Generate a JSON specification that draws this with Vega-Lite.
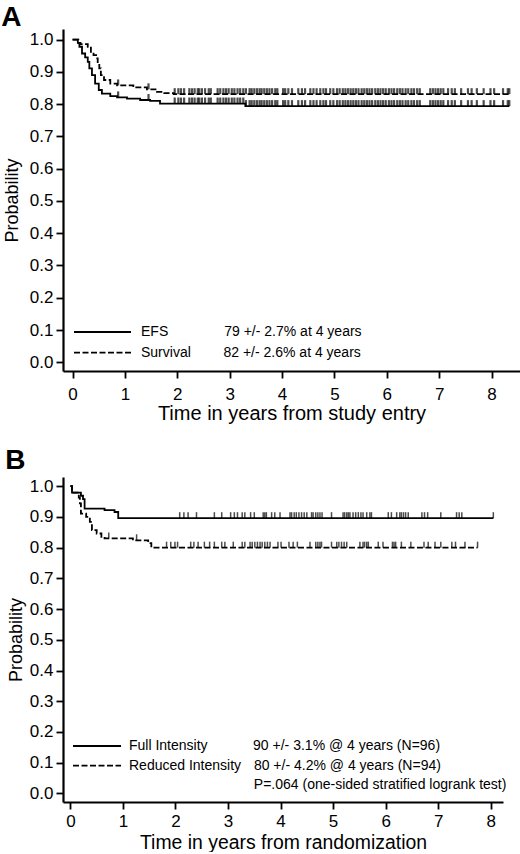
{
  "$schema": "https://vega.github.io/schema/vega-lite/v6.json",
  "padding": {"left": 1, "top": 3, "right": 0, "bottom": 0},
  "background": "white",
  "columns": 1,
  "align": "none",
  "spacing": 23,
  "resolve": {
    "scale": {"x": "independent", "y": "independent", "strokeDash": "independent"},
    "axis": {"x": "independent", "y": "independent"},
    "legend": {"strokeDash": "independent"}
  },
  "config": {
    "view": {"stroke": null},
    "font": "Liberation Sans",
    "axis": {
      "domainColor": "black", "domainWidth": 2.2,
      "tickColor": "black", "tickWidth": 1.8, "tickSize": 7,
      "labelColor": "black", "labelFont": "Liberation Sans", "labelFontSize": 17, "labelPadding": 3, "labelOverlap": false,
      "titleColor": "black", "titleFont": "Liberation Sans", "titleFontSize": 20, "titleFontWeight": "normal",
      "grid": false
    }
  },
  "datasets": {
    "a_curves": [
      {"curve": "EFS", "t": 0, "p": 1.0},
      {"curve": "EFS", "t": 0.10, "p": 0.99},
      {"curve": "EFS", "t": 0.13, "p": 0.978},
      {"curve": "EFS", "t": 0.18, "p": 0.957},
      {"curve": "EFS", "t": 0.24, "p": 0.945},
      {"curve": "EFS", "t": 0.29, "p": 0.931},
      {"curve": "EFS", "t": 0.32, "p": 0.911},
      {"curve": "EFS", "t": 0.37, "p": 0.89},
      {"curve": "EFS", "t": 0.43, "p": 0.864},
      {"curve": "EFS", "t": 0.50, "p": 0.844},
      {"curve": "EFS", "t": 0.56, "p": 0.833},
      {"curve": "EFS", "t": 0.72, "p": 0.825},
      {"curve": "EFS", "t": 0.85, "p": 0.821},
      {"curve": "EFS", "t": 1.04, "p": 0.817},
      {"curve": "EFS", "t": 1.29, "p": 0.813},
      {"curve": "EFS", "t": 1.48, "p": 0.81},
      {"curve": "EFS", "t": 1.67, "p": 0.802},
      {"curve": "EFS", "t": 3.30, "p": 0.794},
      {"curve": "EFS", "t": 8.34, "p": 0.794},
      {"curve": "Survival", "t": 0, "p": 1.0},
      {"curve": "Survival", "t": 0.11, "p": 0.99},
      {"curve": "Survival", "t": 0.15, "p": 0.986},
      {"curve": "Survival", "t": 0.29, "p": 0.978},
      {"curve": "Survival", "t": 0.35, "p": 0.962},
      {"curve": "Survival", "t": 0.40, "p": 0.952},
      {"curve": "Survival", "t": 0.45, "p": 0.942},
      {"curve": "Survival", "t": 0.48, "p": 0.926},
      {"curve": "Survival", "t": 0.51, "p": 0.911},
      {"curve": "Survival", "t": 0.54, "p": 0.89},
      {"curve": "Survival", "t": 0.60, "p": 0.875},
      {"curve": "Survival", "t": 0.72, "p": 0.864},
      {"curve": "Survival", "t": 0.85, "p": 0.858},
      {"curve": "Survival", "t": 1.16, "p": 0.852},
      {"curve": "Survival", "t": 1.42, "p": 0.846},
      {"curve": "Survival", "t": 1.61, "p": 0.838},
      {"curve": "Survival", "t": 1.75, "p": 0.834},
      {"curve": "Survival", "t": 1.93, "p": 0.831},
      {"curve": "Survival", "t": 8.34, "p": 0.831}
    ],
    "a_cens": [
      {"t": 0.87, "s": 0.858, "e": 0.821},
      {"t": 1.45, "s": 0.846, "e": 0.813},
      {"t": 1.95, "s": 0.831, "e": 0.802},
      {"t": 2.02, "s": 0.831, "e": 0.802},
      {"t": 2.07, "s": 0.831, "e": 0.802},
      {"t": 2.13, "s": 0.831, "e": 0.802},
      {"t": 2.23, "s": 0.831, "e": 0.802},
      {"t": 2.28, "s": 0.831, "e": 0.802},
      {"t": 2.33, "s": 0.831, "e": 0.802},
      {"t": 2.39, "s": 0.831, "e": 0.802},
      {"t": 2.42, "s": 0.831, "e": 0.802},
      {"t": 2.47, "s": 0.831, "e": 0.802},
      {"t": 2.53, "s": 0.831, "e": 0.802},
      {"t": 2.60, "s": 0.831, "e": 0.802},
      {"t": 2.64, "s": 0.831, "e": 0.802},
      {"t": 2.77, "s": 0.831, "e": 0.802},
      {"t": 2.82, "s": 0.831, "e": 0.802},
      {"t": 2.88, "s": 0.831, "e": 0.802},
      {"t": 2.93, "s": 0.831, "e": 0.802},
      {"t": 2.98, "s": 0.831, "e": 0.802},
      {"t": 3.04, "s": 0.831, "e": 0.802},
      {"t": 3.09, "s": 0.831, "e": 0.802},
      {"t": 3.15, "s": 0.831, "e": 0.802},
      {"t": 3.20, "s": 0.831, "e": 0.802},
      {"t": 3.26, "s": 0.831, "e": 0.802},
      {"t": 3.31, "s": 0.831, "e": 0.794},
      {"t": 3.38, "s": 0.831, "e": 0.794},
      {"t": 3.42, "s": 0.831, "e": 0.794},
      {"t": 3.47, "s": 0.831, "e": 0.794},
      {"t": 3.52, "s": 0.831, "e": 0.794},
      {"t": 3.57, "s": 0.831, "e": 0.794},
      {"t": 3.61, "s": 0.831, "e": 0.794},
      {"t": 3.66, "s": 0.831, "e": 0.794},
      {"t": 3.71, "s": 0.831, "e": 0.794},
      {"t": 3.76, "s": 0.831, "e": 0.794},
      {"t": 3.81, "s": 0.831, "e": 0.794},
      {"t": 3.87, "s": 0.831, "e": 0.794},
      {"t": 3.91, "s": 0.831, "e": 0.794},
      {"t": 4.02, "s": 0.831, "e": 0.794},
      {"t": 4.06, "s": 0.831, "e": 0.794},
      {"t": 4.12, "s": 0.831, "e": 0.794},
      {"t": 4.19, "s": 0.831, "e": 0.794},
      {"t": 4.31, "s": 0.831, "e": 0.794},
      {"t": 4.38, "s": 0.831, "e": 0.794},
      {"t": 4.44, "s": 0.831, "e": 0.794},
      {"t": 4.54, "s": 0.831, "e": 0.794},
      {"t": 4.60, "s": 0.831, "e": 0.794},
      {"t": 4.66, "s": 0.831, "e": 0.794},
      {"t": 4.73, "s": 0.831, "e": 0.794},
      {"t": 4.79, "s": 0.831, "e": 0.794},
      {"t": 4.84, "s": 0.831, "e": 0.794},
      {"t": 4.92, "s": 0.831, "e": 0.794},
      {"t": 4.98, "s": 0.831, "e": 0.794},
      {"t": 5.05, "s": 0.831, "e": 0.794},
      {"t": 5.10, "s": 0.831, "e": 0.794},
      {"t": 5.16, "s": 0.831, "e": 0.794},
      {"t": 5.21, "s": 0.831, "e": 0.794},
      {"t": 5.26, "s": 0.831, "e": 0.794},
      {"t": 5.31, "s": 0.831, "e": 0.794},
      {"t": 5.36, "s": 0.831, "e": 0.794},
      {"t": 5.41, "s": 0.831, "e": 0.794},
      {"t": 5.46, "s": 0.831, "e": 0.794},
      {"t": 5.52, "s": 0.831, "e": 0.794},
      {"t": 5.57, "s": 0.831, "e": 0.794},
      {"t": 5.62, "s": 0.831, "e": 0.794},
      {"t": 5.67, "s": 0.831, "e": 0.794},
      {"t": 5.72, "s": 0.831, "e": 0.794},
      {"t": 5.78, "s": 0.831, "e": 0.794},
      {"t": 5.83, "s": 0.831, "e": 0.794},
      {"t": 5.88, "s": 0.831, "e": 0.794},
      {"t": 5.93, "s": 0.831, "e": 0.794},
      {"t": 5.98, "s": 0.831, "e": 0.794},
      {"t": 6.04, "s": 0.831, "e": 0.794},
      {"t": 6.09, "s": 0.831, "e": 0.794},
      {"t": 6.14, "s": 0.831, "e": 0.794},
      {"t": 6.20, "s": 0.831, "e": 0.794},
      {"t": 6.25, "s": 0.831, "e": 0.794},
      {"t": 6.30, "s": 0.831, "e": 0.794},
      {"t": 6.36, "s": 0.831, "e": 0.794},
      {"t": 6.41, "s": 0.831, "e": 0.794},
      {"t": 6.47, "s": 0.831, "e": 0.794},
      {"t": 6.52, "s": 0.831, "e": 0.794},
      {"t": 6.58, "s": 0.831, "e": 0.794},
      {"t": 6.63, "s": 0.831, "e": 0.794},
      {"t": 6.83, "s": 0.831, "e": 0.794},
      {"t": 6.88, "s": 0.831, "e": 0.794},
      {"t": 6.93, "s": 0.831, "e": 0.794},
      {"t": 6.98, "s": 0.831, "e": 0.794},
      {"t": 7.03, "s": 0.831, "e": 0.794},
      {"t": 7.08, "s": 0.831, "e": 0.794},
      {"t": 7.17, "s": 0.831, "e": 0.794},
      {"t": 7.24, "s": 0.831, "e": 0.794},
      {"t": 7.30, "s": 0.831, "e": 0.794},
      {"t": 7.42, "s": 0.831, "e": 0.794},
      {"t": 7.55, "s": 0.831, "e": 0.794},
      {"t": 7.62, "s": 0.831, "e": 0.794},
      {"t": 7.72, "s": 0.831, "e": 0.794},
      {"t": 7.85, "s": 0.831, "e": 0.794},
      {"t": 7.98, "s": 0.831, "e": 0.794},
      {"t": 8.05, "s": 0.831, "e": 0.794},
      {"t": 8.22, "s": 0.831, "e": 0.794},
      {"t": 8.31, "s": 0.831, "e": 0.794},
      {"t": 8.34, "s": 0.831, "e": 0.794}
    ],
    "b_curves": [
      {"curve": "Full Intensity", "t": 0, "p": 1.0},
      {"curve": "Full Intensity", "t": 0.03, "p": 0.979},
      {"curve": "Full Intensity", "t": 0.20, "p": 0.969},
      {"curve": "Full Intensity", "t": 0.24, "p": 0.958},
      {"curve": "Full Intensity", "t": 0.27, "p": 0.927},
      {"curve": "Full Intensity", "t": 0.65, "p": 0.922},
      {"curve": "Full Intensity", "t": 0.84, "p": 0.916},
      {"curve": "Full Intensity", "t": 0.91, "p": 0.896},
      {"curve": "Full Intensity", "t": 8.05, "p": 0.896},
      {"curve": "Reduced Intensity", "t": 0, "p": 1.0},
      {"curve": "Reduced Intensity", "t": 0.03, "p": 0.979},
      {"curve": "Reduced Intensity", "t": 0.16, "p": 0.963},
      {"curve": "Reduced Intensity", "t": 0.18, "p": 0.944},
      {"curve": "Reduced Intensity", "t": 0.20, "p": 0.911},
      {"curve": "Reduced Intensity", "t": 0.30, "p": 0.90},
      {"curve": "Reduced Intensity", "t": 0.37, "p": 0.884},
      {"curve": "Reduced Intensity", "t": 0.41, "p": 0.857},
      {"curve": "Reduced Intensity", "t": 0.50, "p": 0.846},
      {"curve": "Reduced Intensity", "t": 0.59, "p": 0.835},
      {"curve": "Reduced Intensity", "t": 0.65, "p": 0.83},
      {"curve": "Reduced Intensity", "t": 1.19, "p": 0.824},
      {"curve": "Reduced Intensity", "t": 1.48, "p": 0.815},
      {"curve": "Reduced Intensity", "t": 1.54, "p": 0.80},
      {"curve": "Reduced Intensity", "t": 7.75, "p": 0.80}
    ],
    "b_cens": [
      {"curve": "Full Intensity", "t": 2.08, "p": 0.896},
      {"curve": "Full Intensity", "t": 2.16, "p": 0.896},
      {"curve": "Full Intensity", "t": 2.24, "p": 0.896},
      {"curve": "Full Intensity", "t": 2.40, "p": 0.896},
      {"curve": "Full Intensity", "t": 2.74, "p": 0.896},
      {"curve": "Full Intensity", "t": 2.88, "p": 0.896},
      {"curve": "Full Intensity", "t": 3.05, "p": 0.896},
      {"curve": "Full Intensity", "t": 3.12, "p": 0.896},
      {"curve": "Full Intensity", "t": 3.18, "p": 0.896},
      {"curve": "Full Intensity", "t": 3.27, "p": 0.896},
      {"curve": "Full Intensity", "t": 3.32, "p": 0.896},
      {"curve": "Full Intensity", "t": 3.43, "p": 0.896},
      {"curve": "Full Intensity", "t": 3.50, "p": 0.896},
      {"curve": "Full Intensity", "t": 3.67, "p": 0.896},
      {"curve": "Full Intensity", "t": 3.70, "p": 0.896},
      {"curve": "Full Intensity", "t": 3.73, "p": 0.896},
      {"curve": "Full Intensity", "t": 3.83, "p": 0.896},
      {"curve": "Full Intensity", "t": 3.89, "p": 0.896},
      {"curve": "Full Intensity", "t": 3.99, "p": 0.896},
      {"curve": "Full Intensity", "t": 4.18, "p": 0.896},
      {"curve": "Full Intensity", "t": 4.21, "p": 0.896},
      {"curve": "Full Intensity", "t": 4.26, "p": 0.896},
      {"curve": "Full Intensity", "t": 4.30, "p": 0.896},
      {"curve": "Full Intensity", "t": 4.35, "p": 0.896},
      {"curve": "Full Intensity", "t": 4.40, "p": 0.896},
      {"curve": "Full Intensity", "t": 4.45, "p": 0.896},
      {"curve": "Full Intensity", "t": 4.50, "p": 0.896},
      {"curve": "Full Intensity", "t": 4.59, "p": 0.896},
      {"curve": "Full Intensity", "t": 4.62, "p": 0.896},
      {"curve": "Full Intensity", "t": 4.67, "p": 0.896},
      {"curve": "Full Intensity", "t": 4.71, "p": 0.896},
      {"curve": "Full Intensity", "t": 4.75, "p": 0.896},
      {"curve": "Full Intensity", "t": 4.79, "p": 0.896},
      {"curve": "Full Intensity", "t": 4.97, "p": 0.896},
      {"curve": "Full Intensity", "t": 5.19, "p": 0.896},
      {"curve": "Full Intensity", "t": 5.22, "p": 0.896},
      {"curve": "Full Intensity", "t": 5.26, "p": 0.896},
      {"curve": "Full Intensity", "t": 5.29, "p": 0.896},
      {"curve": "Full Intensity", "t": 5.32, "p": 0.896},
      {"curve": "Full Intensity", "t": 5.38, "p": 0.896},
      {"curve": "Full Intensity", "t": 5.43, "p": 0.896},
      {"curve": "Full Intensity", "t": 5.48, "p": 0.896},
      {"curve": "Full Intensity", "t": 5.53, "p": 0.896},
      {"curve": "Full Intensity", "t": 5.57, "p": 0.896},
      {"curve": "Full Intensity", "t": 5.64, "p": 0.896},
      {"curve": "Full Intensity", "t": 5.70, "p": 0.896},
      {"curve": "Full Intensity", "t": 5.73, "p": 0.896},
      {"curve": "Full Intensity", "t": 6.05, "p": 0.896},
      {"curve": "Full Intensity", "t": 6.11, "p": 0.896},
      {"curve": "Full Intensity", "t": 6.21, "p": 0.896},
      {"curve": "Full Intensity", "t": 6.27, "p": 0.896},
      {"curve": "Full Intensity", "t": 6.30, "p": 0.896},
      {"curve": "Full Intensity", "t": 6.34, "p": 0.896},
      {"curve": "Full Intensity", "t": 6.38, "p": 0.896},
      {"curve": "Full Intensity", "t": 6.43, "p": 0.896},
      {"curve": "Full Intensity", "t": 6.69, "p": 0.896},
      {"curve": "Full Intensity", "t": 6.74, "p": 0.896},
      {"curve": "Full Intensity", "t": 6.80, "p": 0.896},
      {"curve": "Full Intensity", "t": 7.05, "p": 0.896},
      {"curve": "Full Intensity", "t": 7.35, "p": 0.896},
      {"curve": "Full Intensity", "t": 7.40, "p": 0.896},
      {"curve": "Full Intensity", "t": 7.45, "p": 0.896},
      {"curve": "Full Intensity", "t": 8.05, "p": 0.896},
      {"curve": "Reduced Intensity", "t": 0.73, "p": 0.83},
      {"curve": "Reduced Intensity", "t": 1.26, "p": 0.824},
      {"curve": "Reduced Intensity", "t": 1.83, "p": 0.80},
      {"curve": "Reduced Intensity", "t": 1.91, "p": 0.80},
      {"curve": "Reduced Intensity", "t": 1.99, "p": 0.80},
      {"curve": "Reduced Intensity", "t": 2.04, "p": 0.80},
      {"curve": "Reduced Intensity", "t": 2.29, "p": 0.80},
      {"curve": "Reduced Intensity", "t": 2.35, "p": 0.80},
      {"curve": "Reduced Intensity", "t": 2.43, "p": 0.80},
      {"curve": "Reduced Intensity", "t": 2.55, "p": 0.80},
      {"curve": "Reduced Intensity", "t": 2.65, "p": 0.80},
      {"curve": "Reduced Intensity", "t": 2.74, "p": 0.80},
      {"curve": "Reduced Intensity", "t": 2.88, "p": 0.80},
      {"curve": "Reduced Intensity", "t": 2.94, "p": 0.80},
      {"curve": "Reduced Intensity", "t": 3.10, "p": 0.80},
      {"curve": "Reduced Intensity", "t": 3.27, "p": 0.80},
      {"curve": "Reduced Intensity", "t": 3.32, "p": 0.80},
      {"curve": "Reduced Intensity", "t": 3.42, "p": 0.80},
      {"curve": "Reduced Intensity", "t": 3.46, "p": 0.80},
      {"curve": "Reduced Intensity", "t": 3.51, "p": 0.80},
      {"curve": "Reduced Intensity", "t": 3.56, "p": 0.80},
      {"curve": "Reduced Intensity", "t": 3.61, "p": 0.80},
      {"curve": "Reduced Intensity", "t": 3.65, "p": 0.80},
      {"curve": "Reduced Intensity", "t": 3.70, "p": 0.80},
      {"curve": "Reduced Intensity", "t": 3.75, "p": 0.80},
      {"curve": "Reduced Intensity", "t": 3.80, "p": 0.80},
      {"curve": "Reduced Intensity", "t": 3.95, "p": 0.80},
      {"curve": "Reduced Intensity", "t": 4.01, "p": 0.80},
      {"curve": "Reduced Intensity", "t": 4.16, "p": 0.80},
      {"curve": "Reduced Intensity", "t": 4.24, "p": 0.80},
      {"curve": "Reduced Intensity", "t": 4.32, "p": 0.80},
      {"curve": "Reduced Intensity", "t": 4.56, "p": 0.80},
      {"curve": "Reduced Intensity", "t": 4.67, "p": 0.80},
      {"curve": "Reduced Intensity", "t": 4.71, "p": 0.80},
      {"curve": "Reduced Intensity", "t": 4.75, "p": 0.80},
      {"curve": "Reduced Intensity", "t": 4.78, "p": 0.80},
      {"curve": "Reduced Intensity", "t": 4.97, "p": 0.80},
      {"curve": "Reduced Intensity", "t": 5.07, "p": 0.80},
      {"curve": "Reduced Intensity", "t": 5.11, "p": 0.80},
      {"curve": "Reduced Intensity", "t": 5.16, "p": 0.80},
      {"curve": "Reduced Intensity", "t": 5.21, "p": 0.80},
      {"curve": "Reduced Intensity", "t": 5.26, "p": 0.80},
      {"curve": "Reduced Intensity", "t": 5.51, "p": 0.80},
      {"curve": "Reduced Intensity", "t": 5.57, "p": 0.80},
      {"curve": "Reduced Intensity", "t": 5.60, "p": 0.80},
      {"curve": "Reduced Intensity", "t": 5.64, "p": 0.80},
      {"curve": "Reduced Intensity", "t": 5.67, "p": 0.80},
      {"curve": "Reduced Intensity", "t": 5.86, "p": 0.80},
      {"curve": "Reduced Intensity", "t": 5.95, "p": 0.80},
      {"curve": "Reduced Intensity", "t": 6.13, "p": 0.80},
      {"curve": "Reduced Intensity", "t": 6.16, "p": 0.80},
      {"curve": "Reduced Intensity", "t": 6.19, "p": 0.80},
      {"curve": "Reduced Intensity", "t": 6.30, "p": 0.80},
      {"curve": "Reduced Intensity", "t": 6.48, "p": 0.80},
      {"curve": "Reduced Intensity", "t": 6.73, "p": 0.80},
      {"curve": "Reduced Intensity", "t": 6.81, "p": 0.80},
      {"curve": "Reduced Intensity", "t": 6.94, "p": 0.80},
      {"curve": "Reduced Intensity", "t": 7.05, "p": 0.80},
      {"curve": "Reduced Intensity", "t": 7.26, "p": 0.80},
      {"curve": "Reduced Intensity", "t": 7.33, "p": 0.80},
      {"curve": "Reduced Intensity", "t": 7.51, "p": 0.80},
      {"curve": "Reduced Intensity", "t": 7.75, "p": 0.80}
    ]
  },
  "concat": [
    {
      "width": 457,
      "height": 342,
      "title": {"text": "A", "anchor": "start", "frame": "bounds", "fontSize": 28, "fontWeight": "bold", "font": "Liberation Sans", "color": "black", "offset": -24.5, "baseline": "alphabetic", "dx": -2},
      "layer": [
        {
          "data": {"name": "a_curves"},
          "mark": {"type": "line", "interpolate": "step-after", "color": "black", "strokeWidth": 1.8},
          "encoding": {
            "x": {"field": "t", "type": "quantitative", "scale": {"domain": [-0.183, 8.544], "nice": false, "zero": false},
                  "axis": {"values": [0, 1, 2, 3, 4, 5, 6, 7, 8], "format": "d", "title": "Time in years from study entry", "labelPadding": 8, "titlePadding": 1, "labelOverlap": false}},
            "y": {"field": "p", "type": "quantitative", "scale": {"domain": [-0.027, 1.033], "nice": false, "zero": false},
                  "axis": {"values": [0, 0.1, 0.2, 0.3, 0.4, 0.5, 0.6, 0.7, 0.8, 0.9, 1.0], "tickCount": 11, "format": ".1f", "labelOverlap": false, "title": "Probability", "titleFontSize": 18, "titlePadding": 8}},
            "strokeDash": {"field": "curve", "type": "nominal",
              "scale": {"domain": ["EFS", "Survival"], "range": [[1, 0], [6, 2.5]]},
              "legend": {"orient": "bottom-left", "offset": 10, "title": null, "padding": 0,
                "symbolType": "stroke", "symbolSize": 3249, "symbolStrokeWidth": 1.8, "symbolStrokeColor": "black",
                "clipHeight": 16, "rowPadding": 4.7, "labelOffset": 9, "labelLimit": 600,
                "labelFont": "Liberation Sans", "labelFontSize": 14, "labelColor": "black",
                "labelExpr": "datum.value == 'EFS' ? 'EFS\u2002\u2002\u2002\u2002\u2002\u2002\u2002\u200279 +/- 2.7% at 4 years' : 'Survival\u2002\u2002\u2002\u2002\u200482 +/- 2.6% at 4 years'"}}
          }
        },
        {
          "data": {"name": "a_cens"},
          "mark": {"type": "tick", "orient": "vertical", "color": "black", "size": 6, "thickness": 2.2, "yOffset": -3},
          "encoding": {
            "x": {"field": "t", "type": "quantitative"},
            "y": {"field": "s", "type": "quantitative"}
          }
        },
        {
          "data": {"name": "a_cens"},
          "mark": {"type": "tick", "orient": "vertical", "color": "black", "size": 6, "thickness": 2.2, "yOffset": -3},
          "encoding": {
            "x": {"field": "t", "type": "quantitative"},
            "y": {"field": "e", "type": "quantitative"}
          }
        }
      ]
    },
    {
      "width": 440,
      "height": 325,
      "title": {"text": "B", "anchor": "start", "frame": "bounds", "fontSize": 28, "fontWeight": "bold", "font": "Liberation Sans", "color": "black", "offset": -19.8, "baseline": "alphabetic", "dx": -2},
      "layer": [
        {
          "data": {"name": "b_curves"},
          "mark": {"type": "line", "interpolate": "step-after", "color": "black", "strokeWidth": 1.8},
          "encoding": {
            "x": {"field": "t", "type": "quantitative", "scale": {"domain": [-0.141, 8.234], "nice": false, "zero": false},
                  "axis": {"values": [0, 1, 2, 3, 4, 5, 6, 7, 8], "format": "d", "title": "Time in years from randomization", "titleFontSize": 19.4, "labelPadding": 4, "titlePadding": 4, "labelOverlap": false}},
            "y": {"field": "p", "type": "quantitative", "scale": {"domain": [-0.028, 1.03], "nice": false, "zero": false},
                  "axis": {"values": [0, 0.1, 0.2, 0.3, 0.4, 0.5, 0.6, 0.7, 0.8, 0.9, 1.0], "tickCount": 11, "format": ".1f", "labelOverlap": false, "title": "Probability", "titleFontSize": 18, "titlePadding": 4}},
            "strokeDash": {"field": "curve", "type": "nominal",
              "scale": {"domain": ["Full Intensity", "Reduced Intensity", "P"], "range": [[1, 0], [6, 2.5], [0, 1000]]},
              "legend": {"orient": "bottom-left", "offset": 8.5, "title": null, "padding": 0,
                "symbolType": "stroke", "symbolSize": 2304, "symbolStrokeWidth": 1.8, "symbolStrokeColor": "black",
                "clipHeight": 16, "rowPadding": 3.7, "labelOffset": 7, "labelLimit": 600,
                "labelFont": "Liberation Sans", "labelFontSize": 14, "labelColor": "black",
                "labelExpr": "datum.value == 'Full Intensity' ? 'Full Intensity\u2002\u2002\u2002\u2002\u2002\u2002\u200590 +/- 3.1% @ 4 years (N=96)' : datum.value == 'Reduced Intensity' ? 'Reduced Intensity\u2002\u2005\u200680 +/- 4.2% @ 4 years (N=94)' : '\u200b\u2002\u2002\u2002\u2002\u2002\u2002\u2002\u2002\u2002\u2002\u2002\u2002\u2002\u2002\u2002\u2002\u2002\u2005\u2006P=.064 (one-sided stratified logrank test)'"}}
          }
        },
        {
          "data": {"name": "b_cens"},
          "mark": {"type": "tick", "orient": "vertical", "color": "black", "size": 6, "thickness": 1.5, "yOffset": -3},
          "encoding": {
            "x": {"field": "t", "type": "quantitative"},
            "y": {"field": "p", "type": "quantitative"}
          }
        }
      ]
    }
  ]
}
